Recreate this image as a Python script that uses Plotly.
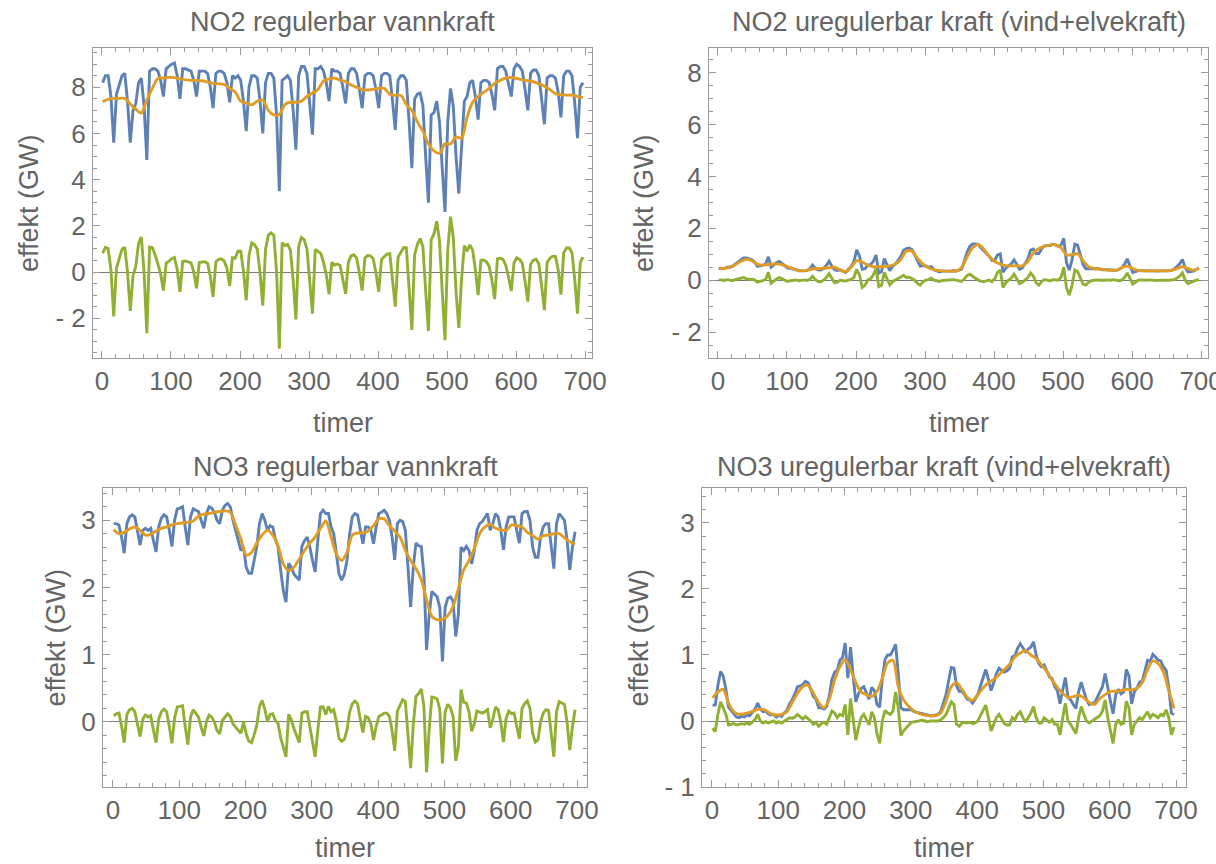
import plotly.graph_objects as go

# Hourly timeline, sampled every 4 h (raw series) and every 8 h (smoothed trend)
HOURS = list(range(1, 698, 4))
HOURS_TREND = list(range(1, 698, 8))

# ---------------- NO2 regulerbar vannkraft (GW) ----------------
no2_reg_actual = [
    8.2, 8.5, 8.5, 7.6, 5.6, 7.7,
    8.1, 8.5, 8.6, 7.4, 5.6, 7.0,
    7.3, 8.2, 8.4, 7.2, 4.85, 8.7,
    8.8, 8.8, 8.7, 8.3, 7.6, 8.8,
    8.9, 9.0, 9.05, 8.5, 7.5, 8.8,
    8.8, 8.75, 8.7, 8.3, 7.6, 8.7,
    8.7, 8.7, 8.6, 8.0, 7.1, 8.6,
    8.7, 8.7, 8.6, 8.2, 7.35, 8.5,
    8.4, 8.5, 8.3, 7.4, 6.1, 8.0,
    8.5, 8.5, 8.4, 7.4, 6.0, 8.2,
    8.6, 8.6, 8.4, 6.8, 3.5, 8.3,
    8.4, 8.5, 8.3, 7.0, 5.3, 8.5,
    8.9, 8.9, 8.6, 7.3, 5.95, 8.8,
    8.8, 8.9, 8.7, 8.2, 7.4, 8.8,
    8.7, 8.7, 8.6, 8.0, 7.3, 8.6,
    8.8, 8.8, 8.6, 7.9, 7.1, 8.5,
    8.6, 8.6, 8.5, 7.9, 7.1, 8.5,
    8.6, 8.6, 8.5, 7.4, 6.15, 8.3,
    8.5, 8.5, 8.3, 6.5, 4.5, 7.5,
    7.7, 7.75, 7.2, 5.0, 3.0, 6.8,
    6.9, 7.4, 6.5, 4.5, 2.6, 6.5,
    7.95, 7.2, 5.0, 3.4, 5.5, 7.4,
    7.6, 8.2, 8.3, 7.6, 6.6, 8.2,
    8.3, 8.3, 8.2, 7.7, 7.0, 8.8,
    8.9, 8.9, 8.7, 8.2, 7.6, 8.8,
    9.0, 8.9, 8.7, 7.9, 7.0, 8.6,
    8.75, 8.75, 8.5, 7.5, 6.4, 8.4,
    8.5, 8.5, 8.4, 7.8, 6.7, 8.5,
    8.7, 8.7, 8.5, 7.3, 5.8, 8.0,
    8.2,
]
no2_reg_trend = [
    7.38, 7.48, 7.52, 7.52, 7.52, 7.28, 7.05, 6.88, 7.45, 7.95,
    8.38, 8.40, 8.43, 8.42, 8.36, 8.32, 8.30, 8.30, 8.28, 8.22,
    8.17, 8.15, 8.12, 7.95, 7.80, 7.40, 7.32, 7.24, 7.40, 7.45,
    7.00, 6.80, 6.82, 7.25, 7.35, 7.35, 7.40, 7.60, 7.75, 7.90,
    8.28, 8.36, 8.40, 8.31, 8.24, 8.10, 8.00, 7.90, 7.88, 7.92,
    7.95, 7.95, 7.70, 7.65, 7.65, 7.25, 7.00, 6.50, 6.10, 5.55,
    5.25, 5.14, 5.55, 5.55, 5.85, 5.80, 6.70, 7.35, 7.60, 7.78,
    7.95, 8.17, 8.30, 8.40, 8.42, 8.38, 8.32, 8.28, 8.24, 8.15,
    8.05, 7.90, 7.72, 7.68, 7.66, 7.66, 7.60, 7.55,
]
no2_reg_dev = [
    0.82, 1.07, 1.02, 0.10, -1.92, 0.18,
    0.58, 0.98, 1.08, 0.00, -1.68, -0.16,
    0.25, 1.24, 1.52, 0.00, -2.65, 1.08,
    1.05, 0.75, 0.35, -0.08, -0.80, 0.38,
    0.47, 0.58, 0.63, 0.11, -0.86, 0.46,
    0.48, 0.44, 0.40, 0.00, -0.70, 0.41,
    0.42, 0.45, 0.38, -0.20, -1.07, 0.44,
    0.55, 0.57, 0.48, 0.17, -0.60, 0.62,
    0.60, 0.90, 0.90, 0.04, -1.22, 0.72,
    1.26, 1.18, 1.00, -0.02, -1.45, 0.98,
    1.60, 1.70, 1.60, 0.00, -3.32, 1.27,
    1.15, 1.20, 0.95, -0.35, -2.05, 1.12,
    1.50, 1.40, 1.00, -0.38, -1.80, 0.98,
    0.90, 0.81, 0.42, -0.12, -0.96, 0.42,
    0.30, 0.35, 0.29, -0.28, -0.94, 0.43,
    0.70, 0.75, 0.60, -0.05, -0.80, 0.61,
    0.72, 0.70, 0.58, -0.04, -0.85, 0.55,
    0.65, 0.78, 0.80, -0.28, -1.50, 0.65,
    0.85, 1.05, 1.05, -0.62, -2.50, 0.75,
    1.20, 1.45, 1.10, -0.82, -2.55, 1.40,
    1.65, 2.20, 1.36, -0.85, -2.95, 0.95,
    2.40, 1.50, -0.85, -2.42, -0.30, 1.15,
    0.90, 1.18, 0.95, 0.12, -1.00, 0.51,
    0.52, 0.44, 0.25, -0.36, -1.17, 0.57,
    0.60, 0.55, 0.30, -0.21, -0.82, 0.40,
    0.62, 0.55, 0.38, -0.40, -1.28, 0.34,
    0.51, 0.55, 0.35, -0.60, -1.65, 0.42,
    0.60, 0.69, 0.68, 0.10, -0.98, 0.83,
    1.04, 1.04, 0.84, -0.33, -1.80, 0.42,
    0.65,
]

# ---------------- NO2 uregulerbar kraft (GW) ----------------
no2_ureg_actual = [
    0.45, 0.46, 0.44, 0.50, 0.50, 0.53,
    0.62, 0.71, 0.80, 0.86, 0.86, 0.81,
    0.79, 0.70, 0.54, 0.55, 0.58, 0.61,
    0.90, 0.50, 0.59, 0.68, 0.72, 0.63,
    0.54, 0.47, 0.46, 0.44, 0.41, 0.36,
    0.36, 0.38, 0.37, 0.44, 0.58, 0.46,
    0.40, 0.39, 0.45, 0.57, 0.73, 0.54,
    0.40, 0.37, 0.40, 0.35, 0.30, 0.42,
    0.53, 0.72, 1.17, 0.93, 0.42, 0.44,
    0.58, 0.60, 0.72, 0.97, 0.27, 0.33,
    0.83, 0.59, 0.37, 0.53, 0.62, 0.76,
    0.92, 1.15, 1.22, 1.24, 1.18, 0.98,
    0.73, 0.54, 0.56, 0.55, 0.50, 0.52,
    0.40, 0.36, 0.32, 0.35, 0.35, 0.34,
    0.35, 0.37, 0.35, 0.39, 0.43, 0.74,
    1.08, 1.31, 1.40, 1.40, 1.38, 1.25,
    1.14, 1.03, 0.92, 0.76, 0.77, 0.97,
    1.01, 0.31, 0.46, 0.55, 0.63, 0.78,
    0.60, 0.42, 0.47, 0.63, 0.82, 1.16,
    1.20, 1.03, 1.03, 1.21, 1.32, 1.33,
    1.33, 1.38, 1.36, 1.30, 1.35, 1.61,
    0.67, 0.39, 0.78, 1.39, 1.35, 0.98,
    0.60, 0.44, 0.44, 0.46, 0.45, 0.45,
    0.43, 0.40, 0.40, 0.40, 0.38, 0.40,
    0.38, 0.41, 0.48, 0.61, 0.82, 0.55,
    0.30, 0.33, 0.37, 0.37, 0.36, 0.36,
    0.37, 0.36, 0.36, 0.35, 0.36, 0.37,
    0.36, 0.36, 0.38, 0.43, 0.53, 0.63,
    0.80, 0.48, 0.32, 0.33, 0.35, 0.41,
    0.47,
]
no2_ureg_trend = [
    0.45, 0.45, 0.50, 0.60, 0.72, 0.80, 0.75, 0.62, 0.58, 0.60,
    0.63, 0.62, 0.56, 0.48, 0.40, 0.36, 0.38, 0.43, 0.45, 0.45,
    0.48, 0.50, 0.40, 0.33, 0.50, 0.75, 0.70, 0.58, 0.52, 0.52,
    0.53, 0.55, 0.62, 0.80, 1.12, 1.12, 0.85, 0.62, 0.48, 0.40,
    0.37, 0.35, 0.35, 0.35, 0.48, 0.90, 1.25, 1.38, 1.20, 0.92,
    0.72, 0.62, 0.56, 0.55, 0.55, 0.55, 0.72, 1.05, 1.22, 1.30,
    1.36, 1.36, 1.25, 0.97, 0.98, 1.02, 0.75, 0.52, 0.45, 0.43,
    0.40, 0.38, 0.38, 0.48, 0.54, 0.45, 0.37, 0.36, 0.36, 0.36,
    0.36, 0.36, 0.38, 0.45, 0.52, 0.45, 0.38, 0.45,
]
no2_ureg_dev = [
    0.00, 0.01, -0.01, 0.02, 0.00, -0.02,
    0.02, 0.05, 0.08, 0.10, 0.06, 0.03,
    0.04, 0.01, -0.08, -0.05, 0.00, 0.02,
    0.30, -0.12, -0.04, 0.05, 0.10, 0.04,
    -0.02, -0.05, -0.02, 0.00, 0.01, -0.02,
    0.00, 0.01, -0.01, 0.03, 0.15, 0.02,
    -0.05, -0.06, 0.00, 0.10, 0.25, 0.05,
    -0.10, -0.08, 0.00, -0.02, -0.03, 0.00,
    0.03, 0.10, 0.42, 0.20, -0.28, -0.20,
    0.00, 0.05, 0.20, 0.45, -0.25, -0.20,
    0.30, 0.05, -0.18, -0.05, 0.00, 0.05,
    0.12, 0.19, 0.10, 0.12, 0.06, 0.00,
    -0.12, -0.19, -0.06, 0.00, 0.02, 0.08,
    0.00, -0.02, -0.05, -0.01, 0.00, -0.01,
    0.00, 0.02, 0.00, -0.02, -0.05, 0.05,
    0.18, 0.23, 0.15, 0.08, 0.00, -0.04,
    -0.06, -0.03, 0.00, -0.06, 0.05, 0.30,
    0.39, -0.28, -0.10, 0.00, 0.08, 0.23,
    0.05, -0.13, -0.08, 0.00, 0.10, 0.28,
    0.15, -0.10, -0.19, -0.05, 0.02, 0.00,
    -0.03, 0.02, 0.00, 0.00, 0.10, 0.50,
    -0.30, -0.58, -0.20, 0.39, 0.33, 0.10,
    -0.15, -0.19, -0.08, -0.02, 0.00, 0.01,
    0.00, -0.01, 0.00, 0.01, 0.00, 0.02,
    0.00, -0.02, 0.00, 0.10, 0.28, 0.05,
    -0.15, -0.08, 0.00, 0.01, 0.00, 0.00,
    0.01, 0.00, 0.00, -0.01, 0.00, 0.01,
    0.00, 0.00, 0.00, 0.02, 0.08, 0.15,
    0.28, 0.00, -0.13, -0.08, -0.03, 0.00,
    0.02,
]

# ---------------- NO3 regulerbar vannkraft (GW) ----------------
no3_reg_actual = [
    2.95, 2.95, 2.93, 2.75, 2.51, 2.95,
    3.05, 3.08, 3.05, 2.85, 2.63, 2.85,
    2.88, 2.85, 2.88, 2.70, 2.53, 2.90,
    3.03, 3.08, 3.05, 2.85, 2.61, 3.00,
    3.17, 3.18, 3.20, 2.90, 2.63, 3.05,
    3.17, 3.15, 3.13, 3.00, 2.88, 3.10,
    3.20, 3.18, 3.12, 3.00, 2.95, 3.15,
    3.22, 3.25, 3.20, 3.00, 2.85, 2.70,
    2.55, 2.60, 2.30, 2.21, 2.21, 2.40,
    2.61, 2.95, 3.10, 3.00, 2.85, 2.92,
    2.90, 2.72, 2.60, 2.25, 1.95, 1.78,
    2.36, 2.30, 2.20, 2.15, 2.11, 2.61,
    2.70, 2.75, 2.60, 2.40, 2.23, 2.70,
    3.10, 3.15, 3.10, 3.10, 2.90, 2.80,
    2.50, 2.20, 2.11, 2.20, 2.40, 2.80,
    3.05, 3.10, 3.08, 2.85, 2.65, 2.90,
    2.90, 2.85, 2.65, 2.90, 3.10, 3.12,
    3.15, 3.10, 3.00, 2.75, 2.41, 2.95,
    3.00, 2.98, 2.85, 2.30, 1.71, 2.30,
    2.66, 2.62, 2.61, 2.20, 1.07, 1.60,
    1.94, 1.90, 1.86, 1.70, 0.90, 1.70,
    1.84, 1.86, 1.80, 1.27, 1.60, 2.60,
    2.55, 2.61, 2.55, 2.35, 2.55, 2.85,
    2.95, 2.98, 3.05, 3.10, 2.85, 2.95,
    3.10, 3.05, 2.85, 2.56, 2.90, 3.05,
    3.05, 3.05, 2.85, 2.66, 3.10, 3.13,
    3.13, 3.00, 2.60, 2.45, 2.45, 2.75,
    2.90, 2.95, 2.95, 2.60, 2.28, 2.95,
    3.10, 3.05, 3.00, 2.70, 2.26, 2.60,
    2.83,
]
no3_reg_trend = [
    2.86, 2.80, 2.82, 2.87, 2.90, 2.85, 2.78, 2.79, 2.84, 2.88,
    2.90, 2.93, 2.95, 2.96, 2.97, 2.99, 3.06, 3.09, 3.10, 3.12,
    3.13, 3.14, 3.12, 2.93, 2.72, 2.48, 2.52, 2.66, 2.78, 2.85,
    2.78, 2.62, 2.35, 2.25, 2.30, 2.42, 2.55, 2.66, 2.75, 2.88,
    2.99, 2.75, 2.50, 2.40, 2.52, 2.78, 2.81, 2.81, 2.84, 2.92,
    3.02, 3.02, 2.92, 2.84, 2.75, 2.55, 2.40, 2.28, 2.12, 1.82,
    1.57, 1.52, 1.52, 1.58, 1.72, 1.98, 2.26, 2.40, 2.58, 2.80,
    2.90, 2.94, 2.88, 2.86, 2.85, 2.93, 2.92, 2.90, 2.82, 2.77,
    2.72, 2.77, 2.78, 2.80, 2.80, 2.74, 2.68, 2.65,
]
no3_reg_dev = [
    0.09, 0.12, 0.13, -0.06, -0.31, 0.11,
    0.18, 0.20, 0.15, -0.03, -0.22, 0.04,
    0.10, 0.07, 0.09, -0.12, -0.31, 0.04,
    0.15, 0.19, 0.15, -0.07, -0.32, 0.06,
    0.22, 0.23, 0.24, -0.07, -0.34, 0.07,
    0.18, 0.13, 0.07, -0.08, -0.21, 0.00,
    0.10, 0.07, 0.00, -0.13, -0.18, 0.02,
    0.08, 0.12, 0.08, -0.03, -0.08, -0.13,
    -0.17, 0.00, -0.18, -0.29, -0.31, -0.19,
    -0.05, 0.23, 0.32, 0.19, 0.00, 0.11,
    0.12, 0.02, -0.02, -0.24, -0.40, -0.52,
    0.11, 0.03, -0.10, -0.21, -0.31, 0.13,
    0.15, 0.15, -0.06, -0.31, -0.52, -0.12,
    0.22, 0.22, 0.11, 0.23, 0.15, 0.18,
    0.00, -0.25, -0.29, -0.26, -0.12, 0.15,
    0.27, 0.31, 0.27, 0.04, -0.16, 0.08,
    0.06, -0.03, -0.27, -0.07, 0.08, 0.10,
    0.13, 0.13, 0.08, -0.13, -0.43, 0.16,
    0.25, 0.33, 0.30, -0.18, -0.69, -0.04,
    0.38, 0.42, 0.49, 0.23, -0.75, -0.10,
    0.37, 0.36, 0.34, 0.18, -0.62, 0.15,
    0.26, 0.21, 0.08, -0.58, -0.38, 0.48,
    0.29, 0.28, 0.15, -0.14, -0.03, 0.16,
    0.15, 0.13, 0.15, 0.18, -0.09, 0.04,
    0.22, 0.18, -0.01, -0.30, 0.05, 0.16,
    0.12, 0.13, -0.07, -0.25, 0.20, 0.27,
    0.31, 0.20, -0.17, -0.30, -0.27, 0.00,
    0.13, 0.18, 0.17, -0.19, -0.52, 0.15,
    0.30, 0.28, 0.26, -0.01, -0.42, -0.07,
    0.18,
]

# ---------------- NO3 uregulerbar kraft (GW) ----------------
no3_ureg_actual = [
    0.24, 0.24, 0.54, 0.75, 0.68, 0.48,
    0.21, 0.16, 0.10, 0.06, 0.05, 0.07,
    0.06, 0.09, 0.08, 0.13, 0.18, 0.27,
    0.18, 0.14, 0.15, 0.11, 0.09, 0.10,
    0.06, 0.09, 0.07, 0.12, 0.16, 0.26,
    0.32, 0.41, 0.52, 0.53, 0.55, 0.60,
    0.58, 0.48, 0.37, 0.33, 0.20, 0.20,
    0.18, 0.22, 0.38, 0.63, 0.74, 0.77,
    0.92, 0.96, 1.18, 0.65, 1.12, 0.68,
    0.29, 0.41, 0.49, 0.52, 0.42, 0.33,
    0.51, 0.46, 0.25, 0.21, 0.65, 0.93,
    1.00, 1.00, 1.07, 1.16, 0.72, 0.20,
    0.17, 0.17, 0.16, 0.17, 0.14, 0.13,
    0.11, 0.11, 0.09, 0.08, 0.08, 0.08,
    0.09, 0.10, 0.14, 0.26, 0.40, 0.61,
    0.81, 0.80, 0.53, 0.45, 0.45, 0.40,
    0.33, 0.32, 0.27, 0.33, 0.40, 0.53,
    0.65, 0.78, 0.63, 0.46, 0.58, 0.72,
    0.80, 0.76, 0.74, 0.76, 0.80, 0.97,
    0.99, 1.10, 1.17, 1.10, 1.05, 1.09,
    1.12, 1.20, 1.00, 0.87, 0.82, 0.85,
    0.77, 0.67, 0.64, 0.52, 0.46, 0.26,
    0.47, 0.66, 0.36, 0.32, 0.25, 0.19,
    0.44, 0.59, 0.45, 0.32, 0.25, 0.27,
    0.27, 0.35, 0.42, 0.52, 0.72, 0.48,
    0.30, 0.11, 0.40, 0.48, 0.41, 0.44,
    0.78, 0.68, 0.26, 0.44, 0.50, 0.59,
    0.60, 0.76, 0.92, 0.90, 1.01, 0.97,
    0.92, 0.91, 0.82, 0.77, 0.51, 0.12,
    0.10,
]
no3_ureg_trend = [
    0.35, 0.44, 0.48, 0.27, 0.14, 0.10, 0.11, 0.13, 0.16, 0.18,
    0.16, 0.11, 0.09, 0.10, 0.14, 0.28, 0.42, 0.52, 0.54, 0.42,
    0.28, 0.20, 0.33, 0.62, 0.82, 0.93, 0.78, 0.58, 0.44, 0.40,
    0.37, 0.45, 0.65, 0.88, 0.92, 0.52, 0.32, 0.22, 0.15, 0.11,
    0.09, 0.08, 0.08, 0.12, 0.30, 0.52, 0.58, 0.48, 0.36, 0.31,
    0.40, 0.50, 0.58, 0.63, 0.70, 0.78, 0.86, 0.97, 1.03, 1.07,
    1.00, 0.95, 0.85, 0.75, 0.62, 0.51, 0.42, 0.36, 0.37, 0.39,
    0.35, 0.28, 0.25, 0.34, 0.40, 0.45, 0.45, 0.46, 0.48, 0.47,
    0.50, 0.58, 0.78, 0.91, 0.87, 0.74, 0.46, 0.19,
]
no3_ureg_dev = [
    -0.11, -0.16, 0.10, 0.29, 0.20, 0.10,
    -0.06, -0.05, -0.04, -0.06, -0.05, -0.04,
    -0.05, -0.03, -0.05, -0.02, 0.02, 0.10,
    0.00, -0.03, -0.01, -0.03, -0.02, 0.00,
    -0.03, -0.01, -0.03, 0.00, 0.02, 0.05,
    0.04, 0.06, 0.10, 0.06, 0.03, 0.07,
    0.04, 0.00, -0.05, -0.02, -0.08, -0.04,
    -0.02, -0.05, 0.05, 0.15, 0.12, 0.05,
    0.10, 0.08, 0.25, -0.21, 0.34, 0.00,
    -0.29, -0.10, 0.05, 0.10, 0.02, -0.06,
    0.14, 0.05, -0.20, -0.34, 0.00, 0.16,
    0.12, 0.10, 0.15, 0.44, 0.20, -0.22,
    -0.15, -0.10, -0.06, -0.02, -0.01, 0.00,
    0.00, 0.01, 0.00, -0.01, 0.00, 0.00,
    0.01, 0.00, 0.02, 0.05, 0.10, 0.20,
    0.29, 0.25, -0.05, -0.08, -0.03, -0.02,
    -0.03, -0.02, -0.04, -0.03, 0.00, 0.08,
    0.15, 0.24, 0.05, -0.15, -0.05, 0.05,
    0.10, 0.02, -0.04, -0.06, -0.06, 0.05,
    0.02, 0.10, 0.14, 0.05, -0.02, 0.05,
    0.12, 0.22, 0.05, -0.03, -0.03, 0.05,
    0.02, -0.02, 0.02, -0.05, -0.05, -0.21,
    0.05, 0.27, 0.00, -0.05, -0.12, -0.19,
    0.05, 0.22, 0.10, 0.00, -0.03, 0.00,
    0.02, 0.05, 0.08, 0.15, 0.32, 0.05,
    -0.15, -0.34, -0.05, 0.02, -0.05, -0.03,
    0.30, 0.20, -0.21, -0.05, 0.00, 0.05,
    0.02, 0.08, 0.14, 0.05, 0.10, 0.08,
    0.05, 0.10, 0.08, 0.17, 0.05, -0.21,
    -0.09,
]

# ---------------- styling ----------------
BLUE, ORANGE, GREEN = "#5E81B5", "#E19C24", "#8FB032"
FRAME = "#9a9a9a"
TEXT = "#646464"
ZERO = "#7a7a7a"
FONT = "Liberation Sans, Arial, sans-serif"
W, H = 1216, 864

X_TICKS = [0, 100, 200, 300, 400, 500, 600, 700]

panels = [
    dict(title="NO2 regulerbar vannkraft",
         actual=no2_reg_actual, trend=no2_reg_trend, dev=no2_reg_dev,
         box=(93, 592, 48, 358), xr=[-13, 710], yr=[-3.72, 9.7],
         yt=[-2, 0, 2, 4, 6, 8], ytt=["- 2", "0", "2", "4", "6", "8"], ym=0.5,
         ylab_x=29, title_y=22, xlab_y=423),
    dict(title="NO2 uregulerbar kraft (vind+elvekraft)",
         actual=no2_ureg_actual, trend=no2_ureg_trend, dev=no2_ureg_dev,
         box=(709, 1208, 48, 358), xr=[-13, 710], yr=[-3.0, 8.95],
         yt=[-2, 0, 2, 4, 6, 8], ytt=["- 2", "0", "2", "4", "6", "8"], ym=0.5,
         ylab_x=644, title_y=22, xlab_y=423),
    dict(title="NO3 regulerbar vannkraft",
         actual=no3_reg_actual, trend=no3_reg_trend, dev=no3_reg_dev,
         box=(103, 587, 488, 787), xr=[-15, 715], yr=[-0.97, 3.48],
         yt=[0, 1, 2, 3], ytt=["0", "1", "2", "3"], ym=0.2,
         ylab_x=55, title_y=467, xlab_y=848),
    dict(title="NO3 uregulerbar kraft (vind+elvekraft)",
         actual=no3_ureg_actual, trend=no3_ureg_trend, dev=no3_ureg_dev,
         box=(702, 1186, 488, 787), xr=[-15, 715], yr=[-1.0, 3.53],
         yt=[-1, 0, 1, 2, 3], ytt=["- 1", "0", "1", "2", "3"], ym=0.2,
         ylab_x=638, title_y=467, xlab_y=848),
]

fig = go.Figure()
annotations = []

for i, p in enumerate(panels, start=1):
    sfx = "" if i == 1 else str(i)
    xa, ya = "x" + sfx, "y" + sfx
    x0, x1, y0, y1 = p["box"]

    fig.add_trace(go.Scatter(x=HOURS, y=p["actual"], mode="lines",
                             line=dict(color=BLUE, width=2.9),
                             xaxis=xa, yaxis=ya, showlegend=False, hoverinfo="skip"))
    fig.add_trace(go.Scatter(x=HOURS_TREND, y=p["trend"], mode="lines",
                             line=dict(color=ORANGE, width=2.9, shape="spline", smoothing=0.8),
                             xaxis=xa, yaxis=ya, showlegend=False, hoverinfo="skip"))
    fig.add_trace(go.Scatter(x=HOURS, y=p["dev"], mode="lines",
                             line=dict(color=GREEN, width=2.9),
                             xaxis=xa, yaxis=ya, showlegend=False, hoverinfo="skip"))

    # fixed panel boxes: tick labels must not push the page margins
    common = dict(showgrid=False, showline=True, linecolor=FRAME, linewidth=1,
                  mirror="ticks", ticks="inside", tickcolor=FRAME, tickwidth=1,
                  ticklen=7, automargin=False, ticklabeloverflow="allow",
                  tickfont=dict(family=FONT, size=26, color=TEXT))
    fig.layout["xaxis" + sfx] = dict(
        domain=[x0 / W, x1 / W], range=p["xr"], anchor=ya, zeroline=False,
        tickmode="array", tickvals=X_TICKS, ticklabelstandoff=0,
        minor=dict(ticks="inside", ticklen=4, tickcolor=FRAME, dtick=20, tick0=0),
        **common)
    fig.layout["yaxis" + sfx] = dict(
        domain=[1 - y1 / H, 1 - y0 / H], range=p["yr"], anchor=xa,
        zeroline=True, zerolinecolor=ZERO, zerolinewidth=1,
        tickmode="array", tickvals=p["yt"], ticktext=p["ytt"], ticklabelstandoff=1,
        minor=dict(ticks="inside", ticklen=4, tickcolor=FRAME, dtick=p["ym"], tick0=0),
        **common)

    cx = (x0 + x1) / 2
    annotations.append(dict(text=p["title"], x=cx / W, y=1 - p["title_y"] / H,
                            xref="paper", yref="paper", showarrow=False,
                            xanchor="center", yanchor="middle",
                            font=dict(family=FONT, size=27, color=TEXT)))
    annotations.append(dict(text="timer", x=cx / W, y=1 - p["xlab_y"] / H,
                            xref="paper", yref="paper", showarrow=False,
                            xanchor="center", yanchor="middle",
                            font=dict(family=FONT, size=27, color=TEXT)))
    annotations.append(dict(text="effekt (GW)", x=p["ylab_x"] / W,
                            y=1 - (y0 + y1) / 2 / H, textangle=-90,
                            xref="paper", yref="paper", showarrow=False,
                            xanchor="center", yanchor="middle",
                            font=dict(family=FONT, size=27, color=TEXT)))

fig.update_layout(width=W, height=H, margin=dict(l=0, r=0, t=0, b=0, autoexpand=False),
                  paper_bgcolor="white", plot_bgcolor="white",
                  annotations=annotations, showlegend=False)

fig.write_html("out.html", include_plotlyjs=True, full_html=True,
               config=dict(displayModeBar=False))
